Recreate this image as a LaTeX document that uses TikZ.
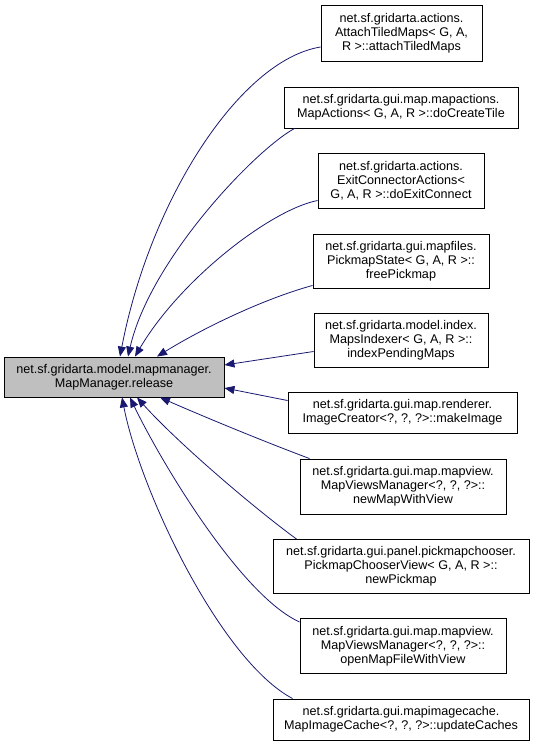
\documentclass[tikz,border=0pt]{standalone}
\usepackage{fontspec}
\setmainfont{Liberation Sans}
\usetikzlibrary{arrows.meta,calc}
\definecolor{edgeblue}{HTML}{191970}
\definecolor{maingray}{HTML}{BFBFBF}
\tikzset{
  box/.style={draw=black, line width=0.9pt, fill=white, inner sep=0pt, align=center,
    font=\fontsize{12.6}{14}\selectfont},
  mainbox/.style={box, fill=maingray},
  edge/.style={draw=edgeblue, line width=0.8pt, -{Triangle[length=10pt,width=8pt]}},
}
\begin{document}
\begin{tikzpicture}[x=1pt,y=-1pt]
\useasboundingbox (0,0) rectangle (536,746);
\node[mainbox, minimum width=220pt, minimum height=40pt] (main) at (114,377)
  {net.sf.gridarta.model.mapmanager.\\MapManager.release};
\node[box, minimum width=161pt, minimum height=56pt] (n1) at (401.5,33)
  {net.sf.gridarta.actions.\\AttachTiledMaps< G, A,\\R >::attachTiledMaps};
\node[box, minimum width=234pt, minimum height=41pt] (n2) at (401,107.5)
  {net.sf.gridarta.gui.map.mapactions.\\MapActions< G, A, R >::doCreateTile};
\node[box, minimum width=166pt, minimum height=55pt] (n3) at (401,180.5)
  {net.sf.gridarta.actions.\\ExitConnectorActions<\\G, A, R >::doExitConnect};
\node[box, minimum width=176pt, minimum height=54pt] (n4) at (401,261)
  {net.sf.gridarta.gui.mapfiles.\\PickmapState< G, A, R >::\\freePickmap};
\node[box, minimum width=174pt, minimum height=54pt] (n5) at (401,340.5)
  {net.sf.gridarta.model.index.\\MapsIndexer< G, A, R >::\\indexPendingMaps};
\node[box, minimum width=229pt, minimum height=41pt] (n6) at (402.5,412.5)
  {net.sf.gridarta.gui.map.renderer.\\ImageCreator<?, ?, ?>::makeImage};
\node[box, minimum width=206pt, minimum height=55pt] (n7) at (403,486.5)
  {net.sf.gridarta.gui.map.mapview.\\MapViewsManager<?, ?, ?>::\\newMapWithView};
\node[box, minimum width=256pt, minimum height=54pt] (n8) at (401,566.5)
  {net.sf.gridarta.gui.panel.pickmapchooser.\\PickmapChooserView< G, A, R >::\\newPickmap};
\node[box, minimum width=206pt, minimum height=55pt] (n9) at (403,646)
  {net.sf.gridarta.gui.map.mapview.\\MapViewsManager<?, ?, ?>::\\openMapFileWithView};
\node[box, minimum width=256pt, minimum height=41pt] (n10) at (401,719.5)
  {net.sf.gridarta.gui.mapimagecache.\\MapImageCache<?, ?, ?>::updateCaches};

\draw[edge] ($(n1.west)+(0,14)$) .. controls (240,60) and (150,200) .. ($(main.north)+(6,0)$);
\draw[edge] ($(n2.south west)+(11,0)$) .. controls (255,150) and (150,260) .. ($(main.north)+(14,0)$);
\draw[edge] ($(n3.west)+(0,20)$) .. controls (270,210) and (180,280) .. ($(main.north)+(21,0)$);
\draw[edge] ($(n4.south west)+(0,-3)$) .. controls (260,300) and (200,330) .. ($(main.north)+(43,0)$);
\draw[edge] ($(n5.west)+(0,11)$) -- ($(main.east)+(0,-12)$);
\draw[edge] ($(n6.west)+(0,-12)$) -- ($(main.east)+(0,11)$);
\draw[edge] ($(n7.north west)+(10,0)$) .. controls (260,440) and (200,415) .. ($(main.south)+(46,0)$);
\draw[edge] ($(n8.north west)+(24,0)$) .. controls (250,505) and (175,440) .. ($(main.south)+(23,0)$);
\draw[edge] ($(n9.west)+(0,-24)$) .. controls (240,595) and (160,460) .. ($(main.south)+(16,0)$);
\draw[edge] ($(n10.north west)+(20,0)$) .. controls (220,660) and (140,490) .. ($(main.south)+(8,0)$);
\end{tikzpicture}
\end{document}
